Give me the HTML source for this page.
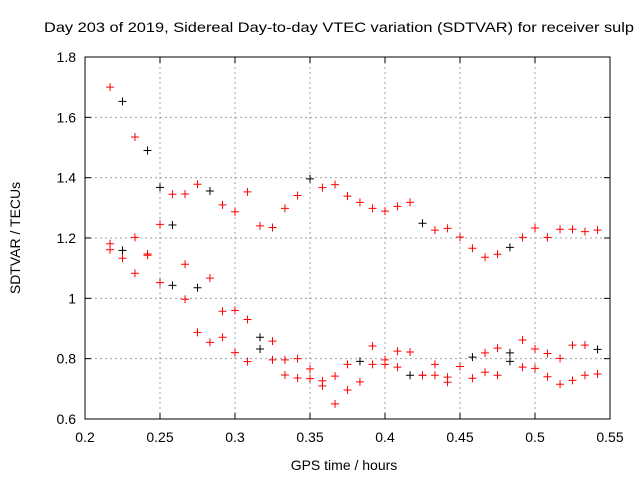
<!DOCTYPE html>
<html><head><meta charset="utf-8"><style>
html,body{margin:0;padding:0;background:#fff;}
svg{display:block;font-family:"Liberation Sans",sans-serif;}
</style></head><body>
<svg id="chart" width="640" height="480" xmlns="http://www.w3.org/2000/svg">
<rect width="640" height="480" fill="#fff"/>
<text x="44" y="32" font-size="14" textLength="590" lengthAdjust="spacingAndGlyphs">Day 203 of 2019, Sidereal Day-to-day VTEC variation (SDTVAR) for receiver sulp</text>
<g id="grid"></g>
<g id="axes"></g>
<g id="marks"></g>
<text x="344" y="470" font-size="14" text-anchor="middle">GPS time / hours</text>
<text transform="translate(20,238) rotate(-90)" font-size="14" text-anchor="middle">SDTVAR / TECUs</text>
</svg>
<script>
const xTicks = [0.2,0.25,0.3,0.35,0.4,0.45,0.5,0.55];
const xTickLabels = ["0.2","0.25","0.3","0.35","0.4","0.45","0.5","0.55"];
const yTicks = [0.6,0.8,1,1.2,1.4,1.6,1.8];
const yTickLabels = ["0.6","0.8","1","1.2","1.4","1.6","1.8"];
const times = [0.2167,0.225,0.2333,0.2417,0.25,0.2583,0.2667,0.275,0.2833,0.2917,0.3,0.3083,0.3167,0.325,0.3333,0.3417,0.35,0.3583,0.3667,0.375,0.3833,0.3917,0.4,0.4083,0.4167,0.425,0.4333,0.4417,0.45,0.4583,0.4667,0.475,0.4833,0.4917,0.5,0.5083,0.5167,0.525,0.5333,0.5417];
const upper = [1.70,1.653,1.535,1.49,1.368,1.345,1.346,1.378,1.356,1.31,1.287,1.353,1.24,1.235,1.298,1.341,1.396,1.367,1.377,1.339,1.318,1.298,1.289,1.305,1.318,1.249,1.226,1.232,1.203,1.166,1.136,1.146,1.169,1.202,1.233,1.202,1.229,1.229,1.221,1.226];
const middle = [1.181,1.159,1.202,1.147,1.245,1.243,1.113,1.035,1.067,0.957,0.96,0.93,0.871,0.858,0.796,0.80,0.766,0.727,0.742,0.781,0.791,0.842,0.796,0.825,0.822,0.745,0.781,0.739,0.774,0.805,0.819,0.835,0.819,0.862,0.832,0.817,0.801,0.845,0.845,0.831];
const lower = [1.161,1.133,1.083,1.143,1.052,1.043,0.997,0.887,0.854,0.871,0.82,0.79,0.832,0.796,0.746,0.736,0.734,0.71,0.65,0.696,0.723,0.781,0.781,0.772,0.745,0.745,0.745,0.722,0.774,0.735,0.755,0.745,0.791,0.772,0.768,0.74,0.715,0.728,0.745,0.749];
const upperBlack = [1,3,4,8,16,25,32];
const middleBlack = [1,5,7,12,20,29,32,39];
const lowerBlack = [5,12,24,32];

const X0=85,X1=610,Y0=419,Y1=57;
const xs=v=>X0+(v-0.2)/(0.55-0.2)*(X1-X0);
const ys=v=>Y0-(v-0.6)/(1.8-0.6)*(Y0-Y1);
const NS="http://www.w3.org/2000/svg";
function mk(tag,attrs,parent){const e=document.createElementNS(NS,tag);for(const k in attrs)e.setAttribute(k,attrs[k]);parent.appendChild(e);return e;}
const grid=document.getElementById('grid'),axes=document.getElementById('axes'),marks=document.getElementById('marks');
xTicks.forEach((t,i)=>{
  const x=xs(t);
  if(i>0&&i<xTicks.length-1){const g=mk('line',{x1:x,x2:x,y1:Y1,y2:Y0,stroke:'#a0a0a0','stroke-dasharray':'2,3','stroke-width':1},grid);
  
  }
  mk('line',{x1:x,x2:x,y1:Y0,y2:Y0-6,stroke:'#000'},axes);
  mk('line',{x1:x,x2:x,y1:Y1,y2:Y1+6,stroke:'#000'},axes);
  const l=mk('text',{x:x,y:Y0+23,'font-size':14,'text-anchor':'middle'},axes);l.textContent=xTickLabels[i];
  
  
});
yTicks.forEach((t,i)=>{
  const y=ys(t);
  if(i>0&&i<yTicks.length-1){const g=mk('line',{x1:X0,x2:X1,y1:y,y2:y,stroke:'#a0a0a0','stroke-dasharray':'2,3','stroke-width':1},grid);
  
  }
  mk('line',{x1:X0,x2:X0+6,y1:y,y2:y,stroke:'#000'},axes);
  mk('line',{x1:X1,x2:X1-6,y1:y,y2:y,stroke:'#000'},axes);
  const l=mk('text',{x:X0-9,y:y+5,'font-size':14,'text-anchor':'end'},axes);l.textContent=yTickLabels[i];
  
  
});
const frame=mk('rect',{x:X0,y:Y1,width:X1-X0,height:Y0-Y1,fill:'none',stroke:'#000'},axes);


function plot(series,blacks,name){
  series.forEach((v,i)=>{
    if(v==null)return;
    const x=xs(times[i]),y=ys(v),c=blacks.includes(i)?'#000':'#f00';
    const p=mk('path',{d:`M${x-4},${y}H${x+4}M${x},${y-4}V${y+4}`,stroke:c,'stroke-width':1},marks);
    
    
  });
}
plot(upper,upperBlack,'upper');
plot(middle,middleBlack,'middle');
plot(lower,lowerBlack,'lower');
</script>
</body></html>
